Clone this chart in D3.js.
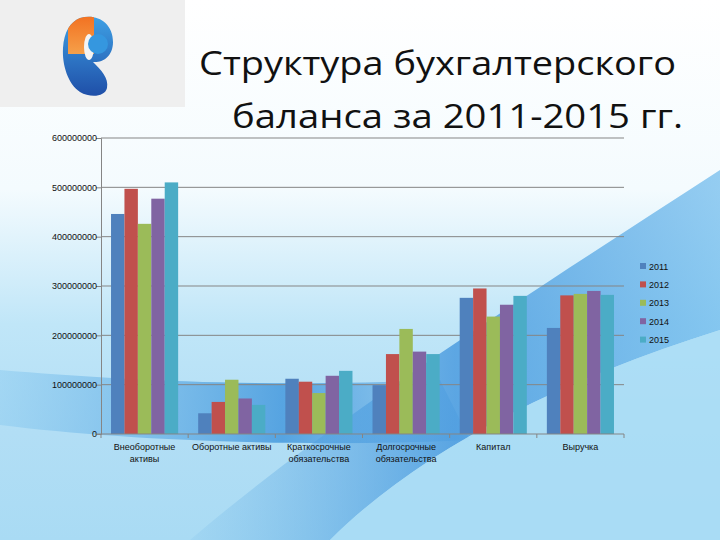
<!DOCTYPE html>
<html>
<head>
<meta charset="utf-8">
<script src="https://d3js.org/d3.v7.min.js"></script>
<style>
  body { margin: 0; padding: 0; }
  svg { display: block; }
</style>
</head>
<body>
<div id="chart"></div>
<script>
// chart data
var categories = ["Внеоборотные активы", "Оборотные активы", "Краткосрочные обязательства",
                  "Долгосрочные обязательства", "Капитал", "Выручка"];
var years = ["2011", "2012", "2013", "2014", "2015"];
var v2011 = [446000000, 42000000, 112000000, 99000000, 276000000, 215000000];
var v2012 = [497000000, 65000000, 106000000, 162000000, 295000000, 281000000];
var v2013 = [426000000, 110000000, 83000000, 213000000, 238000000, 284000000];
var v2014 = [477000000, 72000000, 118000000, 167000000, 262000000, 290000000];
var v2015 = [510000000, 59000000, 128000000, 162000000, 280000000, 282000000];
var yTicks = [0, 100000000, 200000000, 300000000, 400000000, 500000000, 600000000];
var colors = ["#4F81BD", "#C0504D", "#9BBB59", "#8064A2", "#4BACC6"];

var series = [v2011, v2012, v2013, v2014, v2015];

var width = 720,
    height = 540;

var svg = d3.select("#chart").append("svg")
    .attr("width", width)
    .attr("height", height);

var defs = svg.append("defs");

// slide background
var bg = defs.append("linearGradient").attr("id", "bg")
    .attr("x1", 0).attr("y1", 0).attr("x2", 0).attr("y2", 1);
bg.append("stop").attr("offset", "0").attr("stop-color", "#ffffff");
bg.append("stop").attr("offset", "0.35").attr("stop-color", "#f4fbfe");
bg.append("stop").attr("offset", "0.6").attr("stop-color", "#c0e6f8");
bg.append("stop").attr("offset", "0.8").attr("stop-color", "#b2def5");
bg.append("stop").attr("offset", "1").attr("stop-color", "#a9dbf4");

var swoosh = defs.append("linearGradient").attr("id", "swoosh")
    .attr("x1", 0).attr("y1", 0).attr("x2", 1).attr("y2", 0);
swoosh.append("stop").attr("offset", "0").attr("stop-color", "#5aa8e2").attr("stop-opacity", 0.1);
swoosh.append("stop").attr("offset", "0.5").attr("stop-color", "#3d92dc").attr("stop-opacity", 0.75);
swoosh.append("stop").attr("offset", "1").attr("stop-color", "#6bb9ec").attr("stop-opacity", 0.7);

var band = defs.append("linearGradient").attr("id", "band")
    .attr("x1", 0).attr("y1", 0).attr("x2", 1).attr("y2", 0);
band.append("stop").attr("offset", "0").attr("stop-color", "#8ccbf0").attr("stop-opacity", 0.5);
band.append("stop").attr("offset", "0.6").attr("stop-color", "#3f95dc").attr("stop-opacity", 0.8);
band.append("stop").attr("offset", "1").attr("stop-color", "#3f95dc").attr("stop-opacity", 0.2);

svg.append("rect").attr("width", width).attr("height", height).attr("fill", "url(#bg)");

// horizontal darker band behind the lower bars
svg.append("path")
    .attr("d", "M0,370 C120,380 260,388 440,380 L470,440 C300,448 120,440 0,425 Z")
    .attr("fill", "url(#band)");

// big diagonal swoosh
svg.append("path")
    .attr("d", "M190,540 C330,420 520,300 720,170 L720,330 C560,380 420,450 330,540 Z")
    .attr("fill", "url(#swoosh)");
svg.append("path")
    .attr("d", "M330,540 C420,450 560,380 720,330 L720,540 Z")
    .attr("fill", "#a9dcf5").attr("opacity", 0.8);

// logo box
svg.append("rect").attr("x", 0).attr("y", 0).attr("width", 185).attr("height", 107)
    .attr("fill", "#efefef");

var lg = defs.append("linearGradient").attr("id", "logoBlue")
    .attr("x1", 0).attr("y1", 0).attr("x2", 0).attr("y2", 1);
lg.append("stop").attr("offset", "0").attr("stop-color", "#3ea0e4");
lg.append("stop").attr("offset", "1").attr("stop-color", "#1f4fa8");
var og = defs.append("linearGradient").attr("id", "logoOrange")
    .attr("x1", 0).attr("y1", 0).attr("x2", 0).attr("y2", 1);
og.append("stop").attr("offset", "0").attr("stop-color", "#f26a1b");
og.append("stop").attr("offset", "1").attr("stop-color", "#f5a04a");

var logoPath = "M80,18 C96,13 113,22 113,42 C113,57 102,63 93,62 C101,70 109,78 107,88 " +
               "C105,97 90,98 80,92 C68,84 62,65 63,48 C64,32 70,22 80,18 Z";
defs.append("clipPath").attr("id", "logoClip").append("path").attr("d", logoPath);
var logo = svg.append("g");
logo.append("path").attr("d", logoPath).attr("fill", "url(#logoBlue)");
logo.append("rect").attr("x", 68).attr("y", 10).attr("width", 26).attr("height", 44)
    .attr("fill", "url(#logoOrange)").attr("clip-path", "url(#logoClip)");
logo.append("ellipse").attr("cx", 89).attr("cy", 47).attr("rx", 5).attr("ry", 13)
    .attr("fill", "#f4f4f4");
logo.append("circle").attr("cx", 98).attr("cy", 44).attr("r", 10).attr("fill", "#3597df");

// title
var title = svg.append("text")
    .attr("font-family", "'Open Sans', 'Noto Sans', sans-serif")
    .attr("font-size", 33)
    .attr("fill", "#111");
title.append("tspan").attr("x", 199).attr("y", 75)
    .attr("textLength", 477).attr("lengthAdjust", "spacingAndGlyphs")
    .text("Структура бухгалтерского");
title.append("tspan").attr("x", 232).attr("y", 128)
    .attr("textLength", 451).attr("lengthAdjust", "spacingAndGlyphs")
    .text("баланса за 2011-2015 гг.");

// chart area
var margin = {left: 101, right: 96, top: 138, bottom: 106};
var plotW = width - margin.left - margin.right,
    plotH = height - margin.top - margin.bottom;

var g = svg.append("g").attr("transform", "translate(" + margin.left + "," + margin.top + ")");

var x0 = d3.scaleBand().domain(categories).range([0, plotW])
    .paddingInner(0.23).paddingOuter(0.115);
var x1 = d3.scaleBand().domain(years).range([0, x0.bandwidth()]);
var y = d3.scaleLinear().domain([0, 600000000]).range([plotH, 0]);

// gridlines
g.append("g")
  .selectAll("line")
  .data(yTicks.slice(1))
  .enter().append("line")
    .attr("x1", 0).attr("x2", plotW)
    .attr("y1", function(d) { return y(d); })
    .attr("y2", function(d) { return y(d); })
    .attr("stroke", "#858585").attr("stroke-width", 1);

// bars
var groups = g.selectAll(".grp")
    .data(categories)
    .enter().append("g")
      .attr("class", "grp")
      .attr("transform", function(d) { return "translate(" + x0(d) + ",0)"; });

groups.selectAll("rect")
    .data(function(d, i) {
      return years.map(function(yr, k) { return {year: yr, value: series[k][i], k: k}; });
    })
    .enter().append("rect")
      .attr("x", function(d) { return x1(d.year); })
      .attr("width", x1.bandwidth())
      .attr("y", function(d) { return y(d.value); })
      .attr("height", function(d) { return plotH - y(d.value); })
      .attr("fill", function(d) { return colors[d.k]; });

// y axis
var yAxis = g.append("g")
    .call(d3.axisLeft(y).tickValues(yTicks).tickSize(5).tickFormat(d3.format("d")));
yAxis.select(".domain").attr("stroke", "#858585");
yAxis.selectAll(".tick line").attr("stroke", "#858585");
yAxis.selectAll("text")
    .attr("font-family", "'Liberation Sans', sans-serif")
    .attr("font-size", 9).attr("fill", "#111").attr("x", -4);

// x axis: line with ticks on category borders
var xAxis = g.append("g").attr("transform", "translate(0," + plotH + ")");
xAxis.append("line").attr("x1", -5).attr("x2", plotW).attr("stroke", "#858585");
var step = x0.step();
xAxis.selectAll(".bt")
    .data(d3.range(categories.length + 1))
    .enter().append("line")
      .attr("x1", function(i) { return i * step; })
      .attr("x2", function(i) { return i * step; })
      .attr("y1", 0).attr("y2", 4)
      .attr("stroke", "#858585");

var catLabels = {
  "Внеоборотные активы": ["Внеоборотные", "активы"],
  "Оборотные активы": ["Оборотные активы"],
  "Краткосрочные обязательства": ["Краткосрочные", "обязательства"],
  "Долгосрочные обязательства": ["Долгосрочные", "обязательства"],
  "Капитал": ["Капитал"],
  "Выручка": ["Выручка"]
};
xAxis.selectAll(".cl")
    .data(categories)
    .enter().append("text")
      .attr("class", "cl")
      .attr("text-anchor", "middle")
      .attr("font-family", "'Liberation Sans', sans-serif")
      .attr("font-size", 9).attr("fill", "#111")
      .attr("transform", function(d) { return "translate(" + (x0(d) + x0.bandwidth() / 2) + ",16)"; })
    .selectAll("tspan")
      .data(function(d) { return catLabels[d]; })
      .enter().append("tspan")
        .attr("x", 0)
        .attr("dy", function(d, i) { return i === 0 ? 0 : 12; })
        .text(function(d) { return d; });

// legend
var legend = svg.append("g").attr("transform", "translate(640,263)");
var li = legend.selectAll("g")
    .data(years)
    .enter().append("g")
      .attr("transform", function(d, i) { return "translate(0," + (i * 18.4) + ")"; });
li.append("rect").attr("width", 6).attr("height", 6)
    .attr("fill", function(d, i) { return colors[i]; });
li.append("text").attr("x", 9).attr("y", 6.5)
    .attr("font-family", "'Liberation Sans', sans-serif")
    .attr("font-size", 9).attr("fill", "#111")
    .text(function(d) { return d; });
</script>
</body>
</html>
